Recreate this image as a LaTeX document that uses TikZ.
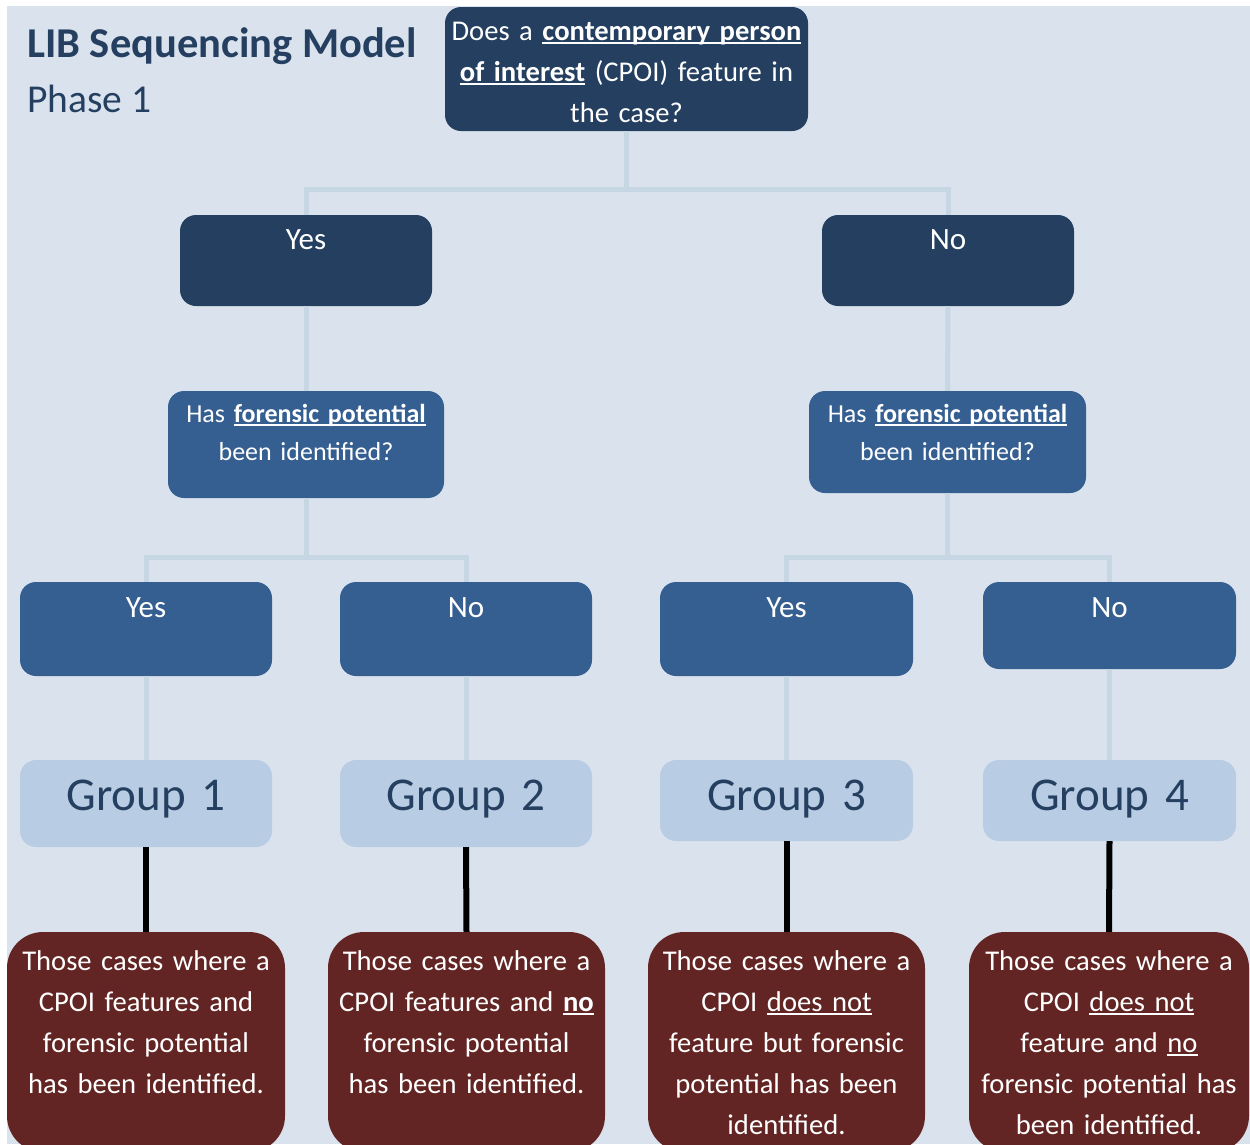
\documentclass[tikz,border=0pt]{standalone}
\usepackage{fontspec}
\setmainfont{Carlito}
\usepackage{xcolor}
\usepackage{tikz}

\definecolor{paper}{HTML}{DAE3ED}
\definecolor{navy}{HTML}{243F60}
\definecolor{steel}{HTML}{365F91}
\definecolor{pale}{HTML}{B8CCE4}
\definecolor{wine}{HTML}{632523}
\definecolor{wirecol}{HTML}{C6D6E3}
\newcommand\fsz[2]{\fontsize{#1}{#2}\selectfont}
\newcommand\undl[1]{\leavevmode\setbox0=\hbox{#1}\rlap{\raisebox{-4pt}{\rule{\wd0}{1.8pt}}}\box0\relax}

\tikzset{
    box/.style={rectangle, rounded corners=16pt, inner sep=0pt, align=center, text=white},
    darkbox/.style={box, fill=navy},
    midbox/.style={box, fill=steel},
    groupbox/.style={box, fill=pale, text=navy, font=\fsz{47}{56}},
    resultbox/.style={box, fill=wine, rounded corners=36pt, font=\fsz{28.6}{41}},
    wire/.style={draw=wirecol, line width=5pt},
    stem/.style={draw=black, line width=6pt},
}

\begin{document}
\begin{tikzpicture}[x=1pt, y=-1pt]
    \path[use as bounding box, clip] (0,0) rectangle (1250,1144);
    % backdrop
    \fill[paper] (7,6) rectangle (1250,1144);
    % title
    \node[anchor=base west, inner sep=0pt, text=navy, font=\fsz{42.5}{50}\bfseries] (title) at (27,57) {LIB Sequencing Model};
    \node[anchor=base west, inner sep=0pt, text=navy, font=\fsz{39.5}{48}] (phase) at (27,112) {Phase 1};
    % question
    \node[darkbox, text width=363pt, text height=33pt, text depth=91pt, font=\fsz{28.6}{41}] (q0) at (626.5,69)
        {Does a \undl{\textbf{contemporary person}}\\ \undl{\textbf{of interest}} (CPOI) feature in\\ the case?};
    % first answers
    \node[darkbox, text width=252pt, text height=34pt, text depth=57pt, font=\fsz{31}{38}] (yes1) at (306,260.5) {Yes};
    \node[darkbox, text width=252pt, text height=34pt, text depth=57pt, font=\fsz{31}{38}] (no1) at (948,260.5) {No};
    % second questions
    \node[midbox, text width=276pt, text height=31pt, text depth=76pt, font=\fsz{26}{38}] (fp1) at (306,444.5)
        {Has \undl{\textbf{forensic potential}}\\ been identified?};
    \node[midbox, text width=277pt, text height=31pt, text depth=71pt, font=\fsz{26}{38}] (fp2) at (947.5,442)
        {Has \undl{\textbf{forensic potential}}\\ been identified?};
    % second answers
    \node[midbox, text width=252pt, text height=35pt, text depth=59pt, font=\fsz{31}{38}] (y1) at (146,629) {Yes};
    \node[midbox, text width=252pt, text height=35pt, text depth=59pt, font=\fsz{31}{38}] (n1) at (466,629) {No};
    \node[midbox, text width=253pt, text height=35pt, text depth=59pt, font=\fsz{31}{38}] (y2) at (786.5,629) {Yes};
    \node[midbox, text width=253pt, text height=35pt, text depth=52pt, font=\fsz{31}{38}] (n2) at (1109.5,625.5) {No};
    % groups
    \node[groupbox, text width=252pt, text height=50pt, text depth=37pt] (g1) at (146,803.5) {Group 1};
    \node[groupbox, text width=252pt, text height=50pt, text depth=37pt] (g2) at (466,803.5) {Group 2};
    \node[groupbox, text width=253pt, text height=50pt, text depth=31pt] (g3) at (786.5,800.5) {Group 3};
    \node[groupbox, text width=253pt, text height=50pt, text depth=31pt] (g4) at (1109.5,800.5) {Group 4};
    % results
    \node[resultbox, text width=278pt, text height=38pt, text depth=182pt] (r1) at (146,1042)
        {Those cases where a\\ CPOI features and\\ forensic potential\\ has been identified.};
    \node[resultbox, text width=277pt, text height=38pt, text depth=182pt] (r2) at (466.5,1042)
        {Those cases where a\\ CPOI features and \undl{\textbf{no}}\\ forensic potential\\ has been identified.};
    \node[resultbox, text width=277pt, text height=38pt, text depth=182pt] (r3) at (786.5,1042)
        {Those cases where a\\ CPOI \undl{does not}\\ feature but forensic\\ potential has been\\ identified.};
    \node[resultbox, text width=280pt, text height=38pt, text depth=182pt] (r4) at (1109,1042)
        {Those cases where a\\ CPOI \undl{does not}\\ feature and \undl{no}\\ forensic potential has\\ been identified.};
    % junctions
    \coordinate (j0) at (626.5,189);
    \coordinate (j1) at (306,557);
    \coordinate (j2) at (947.5,557);
    % connectors
    \draw[wire] (q0.south) -- (j0) -| (yes1.north);
    \draw[wire] (j0) -| (no1.north);
    \draw[wire] (yes1.south) -- (fp1.north);
    \draw[wire] (no1.south) -- (fp2.north);
    \draw[wire] (fp1.south) -- (j1) -| (y1.north);
    \draw[wire] (j1) -| (n1.north);
    \draw[wire] (fp2.south) -- (j2) -| (y2.north);
    \draw[wire] (j2) -| (n2.north);
    \draw[wire] (y1.south) -- (g1.north);
    \draw[wire] (n1.south) -- (g2.north);
    \draw[wire] (y2.south) -- (g3.north);
    \draw[wire] (n2.south) -- (g4.north);
    \draw[stem] (g1.south) -- (r1.north);
    \draw[stem] (g2.south) -- (r2.north);
    \draw[stem] (g3.south) -- (r3.north);
    \draw[stem] (g4.south) -- (r4.north);
\end{tikzpicture}
\end{document}
